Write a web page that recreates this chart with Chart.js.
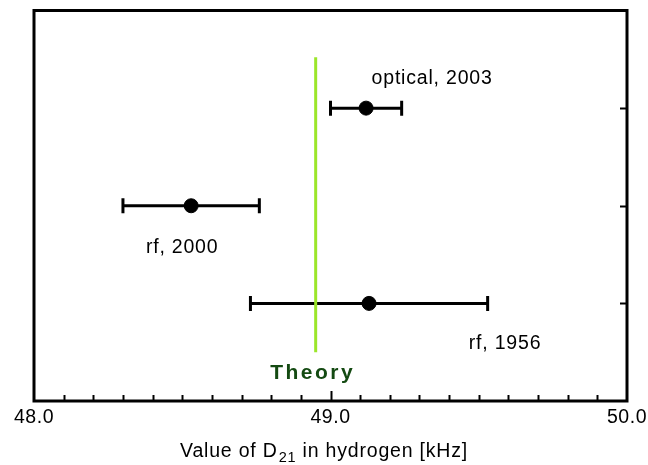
<!DOCTYPE html>
<html>
<head>
<meta charset="utf-8">
<script src="https://cdn.jsdelivr.net/npm/chart.js@4.4.0/dist/chart.umd.min.js"></script>
<style>
  html, body { margin: 0; padding: 0; background: #fff; }
  #wrap { width: 648px; height: 465px; }
</style>
</head>
<body>
<div id="wrap"><canvas id="chart"></canvas></div>
<script>
// measurements of D21 in hydrogen (kHz)
const experiments = ['optical, 2003', 'rf, 2000', 'rf, 1956'];
const centerValues = [49.12, 48.53, 49.13];
const lowerValues = [49.00, 48.30, 48.73];
const upperValues = [49.24, 48.76, 49.53];
const rowPositions = [3, 2, 1];

const theoryValue = 48.95;
const theorySpan = [0.5, 3.52];
const theoryLabel = 'Theory';

const tickValues = [48, 49, 50];
const tickLabels = ['48.0', '49.0', '50.0'];
const axisTitle = ['Value of D', '21', ' in hydrogen [kHz]'];

const FONT = '"Liberation Sans", Arial, sans-serif';

// error bars: one line dataset per measurement, caps drawn as rotated "line" points
const errorBarSets = experiments.map((name, i) => ({
    type: 'line',
    label: name,
    data: [
        { x: lowerValues[i], y: rowPositions[i] },
        { x: upperValues[i], y: rowPositions[i] }
    ],
    borderColor: '#000',
    borderWidth: 3,
    pointStyle: 'line',
    pointRotation: 90,
    pointRadius: 7.5,
    pointBorderWidth: 3,
    pointBorderColor: '#000',
    fill: false
}));

function spaced(ctx, px) {
    if ('letterSpacing' in ctx) ctx.letterSpacing = px + 'px';
}

const decorations = {
    id: 'decorations',
    afterDatasetsDraw(chart) {
        const ctx = chart.ctx;
        const area = chart.chartArea;
        const x = chart.scales.x;
        const y = chart.scales.y;

        ctx.save();
        ctx.strokeStyle = '#000';
        ctx.lineWidth = 3;
        ctx.strokeRect(area.left, area.top, area.right - area.left, area.bottom - area.top);

        // inward ticks on the bottom axis
        ctx.lineWidth = 2;
        for (let k = 1; k < 20; k++) {
            const v = 48 + k * 0.1;
            const px = Math.round(x.getPixelForValue(v)) + 0.5;
            const len = k === 10 ? 10 : 6;
            ctx.beginPath();
            ctx.moveTo(px, area.bottom);
            ctx.lineTo(px, area.bottom - len);
            ctx.stroke();
        }
        // inward ticks on the right axis
        rowPositions.forEach(r => {
            const py = Math.round(y.getPixelForValue(r)) + 0.5;
            ctx.beginPath();
            ctx.moveTo(area.right, py);
            ctx.lineTo(area.right - 7, py);
            ctx.stroke();
        });

        // tick labels
        ctx.fillStyle = '#000';
        ctx.font = '19.5px ' + FONT;
        spaced(ctx, 0.5);
        ctx.textAlign = 'center';
        ctx.textBaseline = 'middle';
        tickValues.forEach((v, i) => {
            ctx.fillText(tickLabels[i], x.getPixelForValue(v), 418);
        });

        // axis title with subscript
        const big = '19.5px ' + FONT;
        const small = '14.5px ' + FONT;
        spaced(ctx, 0.8);
        ctx.font = big;
        const w1 = ctx.measureText(axisTitle[0]).width;
        const w3 = ctx.measureText(axisTitle[2]).width;
        ctx.font = small;
        const w2 = ctx.measureText(axisTitle[1]).width;
        let tx = (area.left + area.right) / 2 - (w1 + w2 + w3) / 2 - 7;
        ctx.textAlign = 'left';
        ctx.textBaseline = 'alphabetic';
        ctx.font = big;
        ctx.fillText(axisTitle[0], tx, 457);
        tx += w1;
        ctx.font = small;
        ctx.fillText(axisTitle[1], tx + 1, 462);
        tx += w2 + 1;
        ctx.font = big;
        ctx.fillText(axisTitle[2], tx, 457);

        // measurement labels
        const labelOffsets = [[66, -30], [-9, 42], [136, 40]];
        ctx.font = '19.5px ' + FONT;
        spaced(ctx, 0.8);
        ctx.textAlign = 'center';
        ctx.textBaseline = 'middle';
        experiments.forEach((name, i) => {
            const px = x.getPixelForValue(centerValues[i]) + labelOffsets[i][0];
            const py = y.getPixelForValue(rowPositions[i]) + labelOffsets[i][1];
            ctx.fillText(name, px, py);
        });

        // theory label
        ctx.font = 'bold 21px ' + FONT;
        ctx.fillStyle = '#144a12';
        spaced(ctx, 2.5);
        ctx.fillText(theoryLabel, x.getPixelForValue(theoryValue) - 3, 373);
        ctx.restore();
    }
};

new Chart(document.getElementById('chart'), {
    type: 'scatter',
    data: {
        datasets: [
            {
                type: 'line',
                label: theoryLabel,
                data: theorySpan.map(v => ({ x: theoryValue, y: v })),
                borderColor: '#9be62a',
                borderWidth: 3,
                pointRadius: 0,
                fill: false
            },
            {
                label: 'measurements',
                data: centerValues.map((v, i) => ({ x: v, y: rowPositions[i] })),
                backgroundColor: '#000',
                borderColor: '#000',
                pointRadius: 7,
                pointHoverRadius: 7
            },
            ...errorBarSets
        ]
    },
    options: {
        responsive: true,
        maintainAspectRatio: false,
        animation: false,
        events: [],
        layout: {
            padding: { left: 34, right: 21, top: 8, bottom: 64 }
        },
        scales: {
            x: { type: 'linear', min: 48, max: 50, display: false },
            y: { type: 'linear', min: 0, max: 4, display: false }
        },
        plugins: {
            legend: { display: false },
            tooltip: { enabled: false }
        }
    },
    plugins: [decorations]
});
</script>
</body>
</html>
